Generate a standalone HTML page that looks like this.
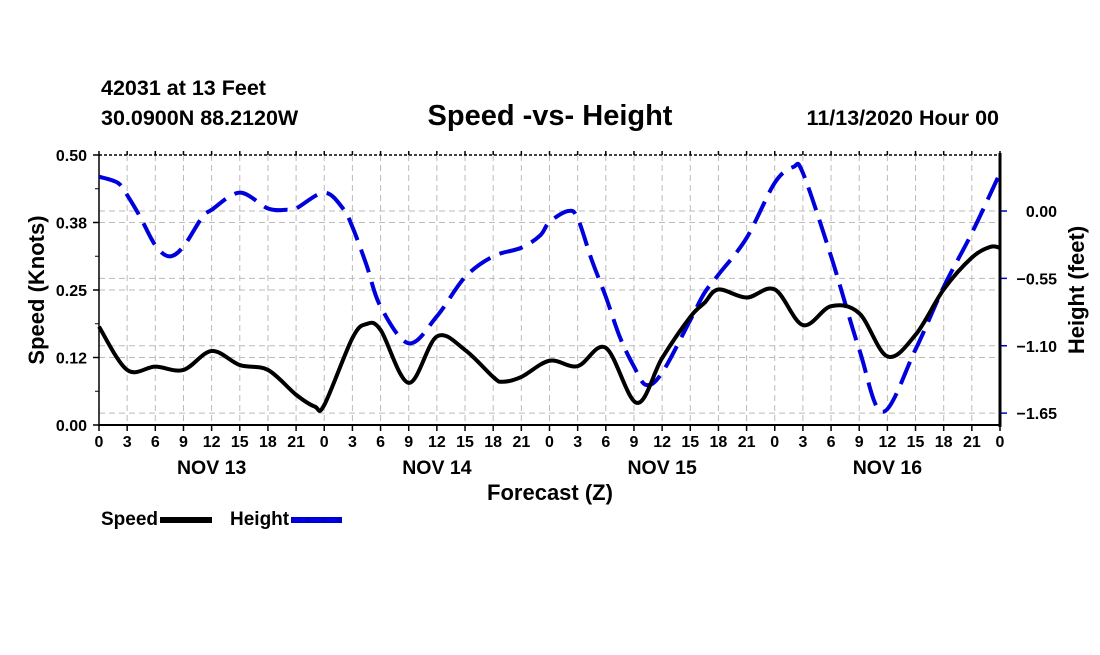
<!DOCTYPE html>
<html><head><meta charset="utf-8"><style>
body{margin:0;background:#fff;}
svg text{font-family:"Liberation Sans",sans-serif;font-weight:bold;fill:#000;}
</style></head><body>
<svg id="chart" width="1100" height="650" xmlns="http://www.w3.org/2000/svg">
<rect width="1100" height="650" fill="#fff"/>
<text x="101" y="95" font-size="21.5">42031 at 13 Feet</text>
<text x="101" y="125" font-size="21.5">30.0900N 88.2120W</text>
<text x="550" y="125" font-size="29" text-anchor="middle">Speed -vs- Height</text>
<text x="999" y="125" font-size="21.5" text-anchor="end">11/13/2020 Hour 00</text>
<g id="grid"></g>
<g id="axes"></g>
<g id="series"></g>
<text transform="translate(44,290) rotate(-90)" font-size="22" text-anchor="middle">Speed (Knots)</text>
<text transform="translate(1084,290) rotate(-90)" font-size="22" text-anchor="middle">Height (feet)</text>
<text x="550" y="500" font-size="22" text-anchor="middle">Forecast (Z)</text>
<g>
<text x="101" y="525" font-size="19">Speed</text>
<line x1="160" y1="520" x2="212" y2="520" stroke="#000" stroke-width="6"/>
<text x="230" y="525" font-size="19">Height</text>
<line x1="291" y1="520" x2="342" y2="520" stroke="#0000cc" stroke-width="6"/>
<line x1="295" y1="520" x2="340" y2="520" stroke="#0000ee" stroke-width="3" stroke-dasharray="11,4"/>
</g>
</svg>
<script>
const speedHours=[0,3,6,9,12,15,18,21,23,24,27,28.5,30,33,36,39,42,43,45,48,51,54,57.3,60,63,64.5,66,69,72,75,78,81,84,87,90,93,95,96];
const speedVals=[0.182,0.102,0.108,0.102,0.137,0.111,0.102,0.056,0.034,0.037,0.161,0.187,0.176,0.078,0.164,0.139,0.089,0.080,0.089,0.119,0.109,0.143,0.041,0.124,0.20,0.226,0.251,0.236,0.251,0.185,0.220,0.207,0.127,0.167,0.251,0.31,0.33,0.328];
const heightHours=[0,2,3,4.4,6,7.5,9,11,12,15,18,20,21,24,26,27,28.5,30,33,36,39,42,45,47,48,50,51,52.5,54,55.5,57,58.3,60,63,64.5,66,69,72,74,75,78,81,83.5,87,90,93,96];
const heightVals=[0.28,0.23,0.13,-0.05,-0.28,-0.37,-0.29,-0.05,0.01,0.15,0.02,0.01,0.02,0.15,0.02,-0.13,-0.44,-0.78,-1.08,-0.86,-0.54,-0.37,-0.30,-0.20,-0.09,0.00,-0.06,-0.40,-0.70,-1.03,-1.27,-1.42,-1.32,-0.89,-0.67,-0.52,-0.22,0.23,0.36,0.31,-0.37,-1.13,-1.64,-1.13,-0.62,-0.18,0.31];
const leftTicks=[0,0.125,0.25,0.375,0.5];
const leftTickLabels=["0.00","0.12","0.25","0.38","0.50"];
const rightTicks=[0,-0.55,-1.10,-1.65];
const rightTickLabels=["0.00","-0.55","-1.10","-1.65"];
const dayLabels=["NOV 13","NOV 14","NOV 15","NOV 16"];

const X0=99,X1=1000,Y0=155,Y1=425;
const xs=h=>X0+(X1-X0)*h/96;
const ys=v=>Y1-(Y1-Y0)*v/0.5;
const yh=f=>211-f*122.5;
const NS="http://www.w3.org/2000/svg";
function mk(tag,parent,attrs){const e=document.createElementNS(NS,tag);for(const k in attrs)e.setAttribute(k,attrs[k]);parent.appendChild(e);return e;}
const grid=document.getElementById('grid'),axes=document.getElementById('axes'),series=document.getElementById('series');
const gs={stroke:"#bbb","stroke-width":1,"stroke-dasharray":"6,4"};
for(let h=3;h<96;h+=3){const l=mk('line',grid,Object.assign({x1:xs(h),x2:xs(h),y1:Y0,y2:Y1},gs));

}
leftTicks.forEach((v,i)=>{const y=ys(v);
if(i>0&&i<4){const l=mk('line',grid,Object.assign({x1:X0,x2:X1,y1:y,y2:y},gs));

}
mk('line',axes,{x1:X0-6,x2:X0,y1:y,y2:y,stroke:"#000","stroke-width":1.5});
const t=mk('text',axes,{x:X0-12,y:y+6,"font-size":16,"text-anchor":"end"});t.textContent=leftTickLabels[i];


if(i<4){const ym=ys(v+0.0625);mk('line',axes,{x1:X0-4,x2:X0,y1:ym,y2:ym,stroke:"#000","stroke-width":1});}});
rightTicks.forEach((f,i)=>{const y=yh(f);
const l=mk('line',grid,Object.assign({x1:X0,x2:X1,y1:y,y2:y},gs));


mk('line',axes,{x1:X1,x2:X1+7,y1:y,y2:y,stroke:"#00c","stroke-width":1.5});
const t=mk('text',axes,{x:X1+57,y:y+6,"font-size":16,"text-anchor":"end"});t.textContent=rightTickLabels[i].replace('-','\u2212');

});
mk('line',axes,{x1:X0,x2:X0,y1:Y0,y2:Y1,stroke:"#000","stroke-width":1.5});
mk('line',axes,{x1:X1,x2:X1,y1:Y0-2,y2:Y1+2,stroke:"#000","stroke-width":3});
mk('line',axes,{x1:X0,x2:X1,y1:Y0,y2:Y0,stroke:"#000","stroke-width":1.5,"stroke-dasharray":"3,2"});
mk('line',axes,{x1:X0,x2:X1,y1:Y1,y2:Y1,stroke:"#000","stroke-width":2});
for(let h=0;h<=96;h+=3){const x=xs(h);
mk('line',axes,{x1:x,x2:x,y1:Y1,y2:Y1+6,stroke:"#000","stroke-width":1.5});
mk('line',axes,{x1:x,x2:x,y1:Y0-4,y2:Y0,stroke:"#000","stroke-width":1.5});
const t=mk('text',axes,{x:x,y:Y1+22,"font-size":16,"text-anchor":"middle"});t.textContent=String(h%24);

}
dayLabels.forEach((d,i)=>{const t=mk('text',axes,{x:xs(12+24*i),y:Y1+49,"font-size":19.5,"text-anchor":"middle"});t.textContent=d;

});
function smooth(pts){let d=`M${pts[0][0]},${pts[0][1]}`;for(let i=0;i<pts.length-1;i++){const p0=pts[Math.max(0,i-1)],p1=pts[i],p2=pts[i+1],p3=pts[Math.min(pts.length-1,i+2)];
d+=` C${p1[0]+(p2[0]-p0[0])/6},${p1[1]+(p2[1]-p0[1])/6} ${p2[0]-(p3[0]-p1[0])/6},${p2[1]-(p3[1]-p1[1])/6} ${p2[0]},${p2[1]}`;}return d;}
const hp=mk('path',series,{d:smooth(heightHours.map((h,i)=>[xs(h),yh(heightVals[i])])),fill:"none",stroke:"#0000dd","stroke-width":4,"stroke-dasharray":"24,10"});


const sp=mk('path',series,{d:smooth(speedHours.map((h,i)=>[xs(h),ys(speedVals[i])])),fill:"none",stroke:"#000","stroke-width":4});


</script>
</body></html>
